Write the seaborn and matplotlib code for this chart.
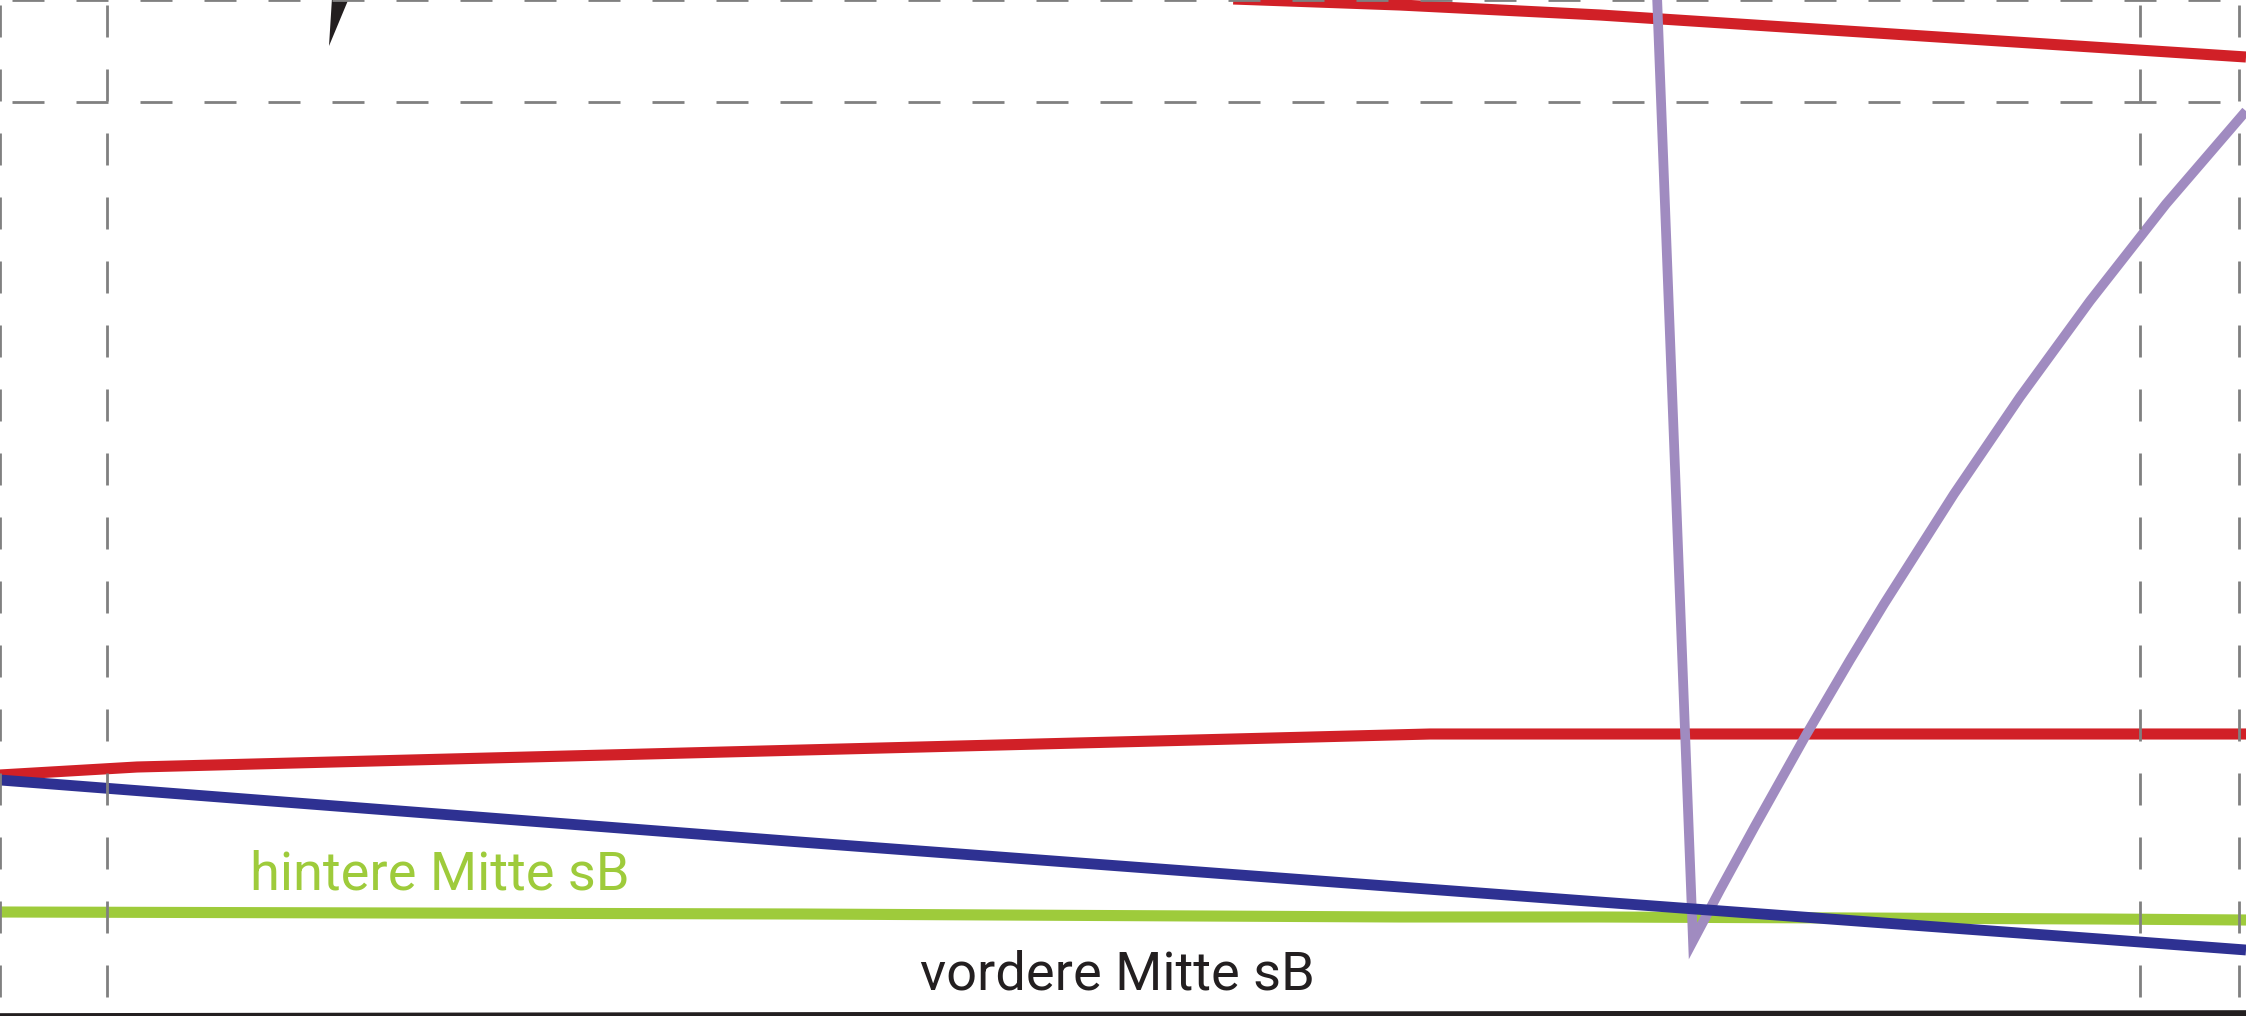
import numpy as np
import pandas as pd
import matplotlib
matplotlib.use("Agg")
import matplotlib.pyplot as plt
import seaborn as sns

# ---- data (pixel units of the 2246x1016 drawing, y grows downward) ----
red_upper_x = [900, 1136, 1400, 1600, 2246]
red_upper_y = [-12, -4.5, 5, 15, 57]

red_lower_x = [0, 137, 1430, 2246]
red_lower_y = [775, 767, 734, 734]

blue_x = [0, 800, 1400, 1600, 2100, 2246]
blue_y = [780, 842, 887, 902, 939, 950]

green_x = [0, 800, 1400, 1600, 2100, 2246]
green_y = [912, 914, 917, 917, 919, 920]

purple_x = [1657, 1693, 1720, 1755, 1806, 1850, 1884, 1954, 2020, 2090, 2166, 2246]
purple_y = [-5, 941, 890, 826, 735, 660, 604, 494, 397, 301, 204, 111]

black_bottom_x = [0, 2246]
black_bottom_y = [1017, 1014]

wedge_x = [332, 349, 329]
wedge_y = [-2, -2, 46]

grid_h = [0, 102]
grid_v = [0, 107, 2140, 2239]

labels = ["hintere Mitte sB", "vordere Mitte sB"]
label_x = [440, 1117]
label_y = [889, 989]
label_colors = ["#9ECB3B", "#231F20"]

# ---- drawing ----
sns.set_theme(style="white")
plt.rcParams["font.family"] = ["Roboto", "DejaVu Sans"]
plt.rcParams["lines.scale_dashes"] = False

W, H = 2246, 1016
fig = plt.figure(figsize=(W / 100, H / 100), dpi=100)
ax = fig.add_axes([0, 0, 1, 1])
ax.set_xlim(0, W)
ax.set_ylim(H, 0)
ax.axis("off")

def series(xs, ys):
    return pd.DataFrame({"x": xs, "y": ys})

sns.lineplot(data=series(green_x, green_y), x="x", y="y", sort=False, estimator=None,
             color="#9ECB3B", linewidth=8.0, ax=ax, zorder=2)
sns.lineplot(data=series(red_upper_x, red_upper_y), x="x", y="y", sort=False, estimator=None,
             color="#D12027", linewidth=8.0, ax=ax, zorder=3)
sns.lineplot(data=series(red_lower_x, red_lower_y), x="x", y="y", sort=False, estimator=None,
             color="#D12027", linewidth=8.0, ax=ax, zorder=3)
sns.lineplot(data=series(purple_x, purple_y), x="x", y="y", sort=False, estimator=None,
             color="#A08BC0", linewidth=7.0, ax=ax, zorder=4)
sns.lineplot(data=series(blue_x, blue_y), x="x", y="y", sort=False, estimator=None,
             color="#2E3192", linewidth=7.8, ax=ax, zorder=5)
sns.lineplot(data=series(black_bottom_x, black_bottom_y), x="x", y="y", sort=False, estimator=None,
             color="#231F20", linewidth=5.5, ax=ax, zorder=6)

for ln in ax.lines:
    ln.set_solid_joinstyle("miter")
    ln.set_solid_capstyle("butt")
    ln.set_clip_on(False)

ax.fill(wedge_x, wedge_y, color="#231F20", zorder=7, lw=0)

# dashed construction lines: dash 32 px, gap 32 px  (1 px = 0.72 pt)
px = 0.72
for yv in grid_h:
    ax.axhline(yv, color="#808080", linewidth=2.0, zorder=8,
               linestyle=(52 * px, (32 * px, 32 * px)))
for xv in grid_v:
    ax.axvline(xv, color="#808080", linewidth=2.0, zorder=8,
               linestyle=(45 * px, (32 * px, 32 * px)))

for txt, tx, ty, c in zip(labels, label_x, label_y, label_colors):
    ax.text(tx, ty, txt, color=c, fontsize=39, ha="center", va="baseline", zorder=9)

fig.savefig("out.png", dpi=100)
